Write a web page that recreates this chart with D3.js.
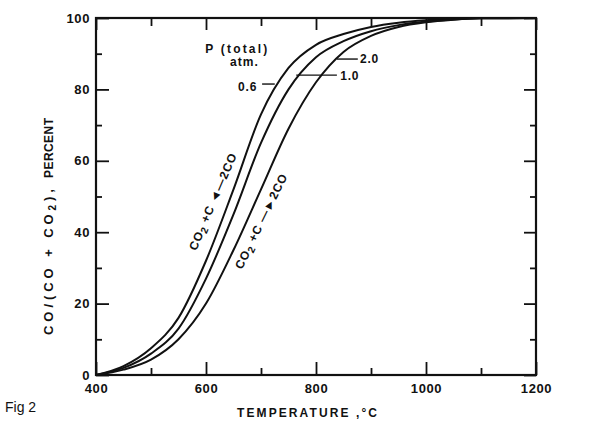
<!DOCTYPE html>
<html>
<head>
<meta charset="utf-8">
<script src="https://cdn.jsdelivr.net/npm/d3@7"></script>
<style>
  html, body { margin: 0; padding: 0; background: #fff; }
  svg { display: block; }
  text { font-family: "Liberation Sans", Arial, sans-serif; font-weight: bold; fill: #111; }
</style>
</head>
<body>
<svg id="chart" width="613" height="431"></svg>
<script>
// ---- data ----
const temperatures = [400, 450, 500, 550, 600, 650, 700, 750, 800, 850, 900, 950, 1000, 1050, 1100, 1200];
const co06 = [0, 2.5, 7.5, 16, 32, 52, 73, 86, 92.5, 95.5, 97.5, 98.7, 99.4, 99.8, 100, 100];
const co10 = [0, 2.0, 6.0, 13, 27, 45, 65, 80, 89, 93.5, 96.3, 98.0, 99.0, 99.6, 99.9, 100];
const co20 = [0, 1.5, 4.3, 10, 20, 35, 52, 69, 82, 90.5, 95.0, 97.5, 98.8, 99.5, 99.9, 100];
const pressures = ["0.6", "1.0", "2.0"];
const xMajorTicks = [400, 600, 800, 1000, 1200];
const xMinorTicks = [500, 700, 900, 1100];
const yMajorTicks = [0, 20, 40, 60, 80, 100];
const yMinorTicks = [10, 30, 50, 70, 90];

const svg = d3.select("#chart");
const x = d3.scaleLinear().domain([400, 1200]).range([96, 536]);
const y = d3.scaleLinear().domain([0, 100]).range([375, 18]);

// axes
function styleAxis(g) {
  g.select(".domain").remove();
  g.selectAll(".tick line").attr("stroke", "#111").attr("stroke-width", 1.8);
  g.selectAll(".tick text").style("font-size", "13px").style("letter-spacing", "0.6px").attr("fill", "#111");
}
svg.append("g").attr("transform", `translate(0,${y(0)})`)
  .call(d3.axisBottom(x).tickValues(xMajorTicks).tickSize(-13).tickPadding(9).tickFormat(d3.format("d")))
  .call(styleAxis);
svg.append("g").attr("transform", `translate(0,${y(0)})`)
  .call(d3.axisBottom(x).tickValues(xMinorTicks).tickSize(-7).tickFormat(""))
  .call(styleAxis);
svg.append("g").attr("transform", `translate(0,${y(100)})`)
  .call(d3.axisTop(x).tickValues(xMajorTicks).tickSize(-12).tickFormat(""))
  .call(styleAxis);
svg.append("g").attr("transform", `translate(0,${y(100)})`)
  .call(d3.axisTop(x).tickValues(xMinorTicks).tickSize(-8).tickFormat(""))
  .call(styleAxis);
svg.append("g").attr("transform", `translate(${x(400)},0)`)
  .call(d3.axisLeft(y).tickValues(yMajorTicks).tickSize(-13).tickPadding(6).tickFormat(d3.format("d")))
  .call(styleAxis);
svg.append("g").attr("transform", `translate(${x(400)},0)`)
  .call(d3.axisLeft(y).tickValues(yMinorTicks).tickSize(-6).tickFormat(""))
  .call(styleAxis);
svg.append("g").attr("transform", `translate(${x(1200)},0)`)
  .call(d3.axisRight(y).tickValues(yMajorTicks).tickSize(-12).tickFormat(""))
  .call(styleAxis);
svg.append("g").attr("transform", `translate(${x(1200)},0)`)
  .call(d3.axisRight(y).tickValues(yMinorTicks).tickSize(-6).tickFormat(""))
  .call(styleAxis);

// frame
svg.append("rect")
  .attr("x", x(400)).attr("y", y(100))
  .attr("width", x(1200) - x(400)).attr("height", y(0) - y(100))
  .attr("fill", "none").attr("stroke", "#111").attr("stroke-width", 2.2);

// curves
const series = [co06, co10, co20];
const line = d3.line().x((d, i) => x(temperatures[i])).y(d => y(d)).curve(d3.curveMonotoneX);
svg.append("g").selectAll("path").data(series).join("path")
  .attr("d", d => line(d))
  .attr("fill", "none").attr("stroke", "#111").attr("stroke-width", 2);

// pressure labels and leaders (data coordinates)
const ann = svg.append("g");
ann.append("text").attr("x", x(655)).attr("y", y(90.2)).attr("text-anchor", "middle")
  .attr("textLength", 62).attr("lengthAdjust", "spacing")
  .style("font-size", "12px").text("P (total)");
ann.append("text").attr("x", x(669)).attr("y", y(86.6)).attr("text-anchor", "middle")
  .attr("textLength", 28).attr("lengthAdjust", "spacing")
  .style("font-size", "12px").text("atm.");
const leaders = [
  { t0: 702, t1: 725, v: 81.5, lt: 693, lv: 79.6, anchor: "end" },
  { t0: 764, t1: 838, v: 84, lt: 844, lv: 82.6, anchor: "start" },
  { t0: 838, t1: 876, v: 88.5, lt: 880, lv: 87.4, anchor: "start" }
];
leaders.forEach((d, i) => {
  ann.append("line").attr("x1", x(d.t0)).attr("x2", x(d.t1)).attr("y1", y(d.v)).attr("y2", y(d.v))
    .attr("stroke", "#111").attr("stroke-width", 1.4);
  ann.append("text").attr("x", x(d.lt)).attr("y", y(d.lv)).attr("text-anchor", d.anchor)
    .style("font-size", "12px").style("letter-spacing", "0.8px").text(pressures[i]);
});

// reaction labels along curves
function reaction(tc, vc, angle, arrow) {
  const g = ann.append("g").attr("transform", `translate(${x(tc)},${y(vc)}) rotate(${angle})`);
  const t = g.append("text").attr("text-anchor", "middle").attr("dy", "0.35em")
    .attr("textLength", 104).attr("lengthAdjust", "spacing")
    .style("font-size", "12px");
  t.append("tspan").text("CO");
  t.append("tspan").attr("dy", "3").style("font-size", "10px").text("2");
  t.append("tspan").attr("dy", "-3").text(" +C " + arrow + "2CO");
}
reaction(612, 48.5, -67, "\u25C4\u2014");
reaction(700, 43, -64, "\u2014\u25BA");

// axis titles
const yt1 = svg.append("text").attr("transform", `translate(53,262) rotate(-90)`)
  .attr("text-anchor", "middle").attr("textLength", 146).attr("lengthAdjust", "spacing")
  .style("font-size", "13px");
yt1.append("tspan").text("CO/(CO + CO");
yt1.append("tspan").attr("dy", "3").style("font-size", "10px").text("2");
yt1.append("tspan").attr("dy", "-3").text("),");
svg.append("text").attr("transform", `translate(53,148) rotate(-90)`)
  .attr("text-anchor", "middle").attr("textLength", 60).attr("lengthAdjust", "spacing")
  .style("font-size", "12px").text("PERCENT");

svg.append("text").attr("x", 307).attr("y", 417).attr("text-anchor", "middle")
  .attr("textLength", 140).attr("lengthAdjust", "spacing")
  .style("font-size", "12px").text("TEMPERATURE ,°C");

svg.append("text").attr("x", 5).attr("y", 412)
  .style("font-size", "14px").style("font-weight", "normal").text("Fig 2");
</script>
</body>
</html>
